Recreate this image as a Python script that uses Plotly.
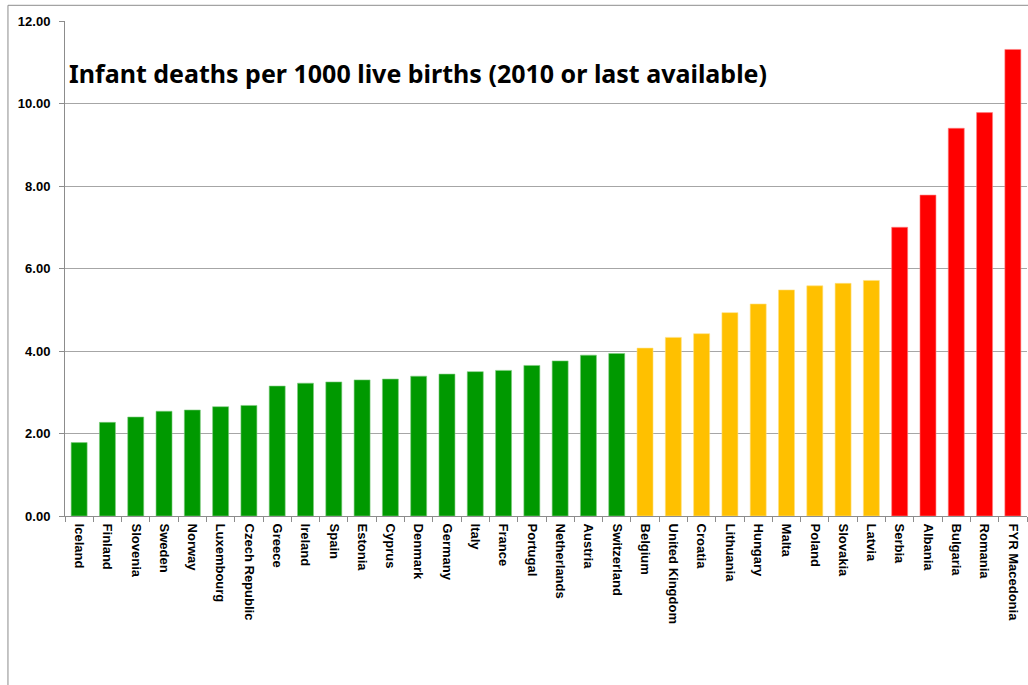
import plotly.graph_objects as go

# Infant deaths per 1000 live births, 2010 or latest year available
countries = [
    "Iceland", "Finland", "Slovenia", "Sweden", "Norway", "Luxembourg",
    "Czech Republic", "Greece", "Ireland", "Spain", "Estonia", "Cyprus",
    "Denmark", "Germany", "Italy", "France", "Portugal", "Netherlands",
    "Austria", "Switzerland", "Belgium", "United Kingdom", "Croatia",
    "Lithuania", "Hungary", "Malta", "Poland", "Slovakia", "Latvia",
    "Serbia", "Albania", "Bulgaria", "Romania", "FYR Macedonia",
]
rates = [
    1.78, 2.27, 2.40, 2.54, 2.57, 2.65, 2.68, 3.15, 3.22, 3.25, 3.30, 3.32,
    3.39, 3.44, 3.50, 3.53, 3.65, 3.76, 3.90, 3.94, 4.07, 4.33, 4.42,
    4.93, 5.14, 5.48, 5.58, 5.64, 5.71, 7.00, 7.78, 9.40, 9.78, 11.31,
]
# band per country: low (<4), middle (4-6), high (>6)
bands = ["low"] * 20 + ["mid"] * 9 + ["high"] * 5
band_colors = {"low": "#009900", "mid": "#FFC000", "high": "#FF0000"}
edge_colors = {"low": "#7FCC7F", "mid": "#FFE080", "high": "#FF8080"}

y_ticks = [0, 2, 4, 6, 8, 10, 12]

fig = go.Figure(
    go.Bar(
        x=countries,
        y=rates,
        marker=dict(
            color=[band_colors[b] for b in bands],
            line=dict(color=[edge_colors[b] for b in bands], width=0.6),
        ),
        width=0.565,
        hovertemplate="%{x}: %{y:.2f}<extra></extra>",
    )
)

fig.update_layout(
    width=1028,
    height=685,
    margin=dict(l=65, r=1, t=21, b=169),
    paper_bgcolor="white",
    plot_bgcolor="white",
    showlegend=False,
    font=dict(family="Liberation Sans, Arial, sans-serif", color="black"),
    annotations=[
        dict(
            text="Infant deaths per 1000 live births (2010 or last available)",
            xref="paper", yref="paper",
            x=0.002, y=0.895,
            xanchor="left", yanchor="middle",
            showarrow=False,
            font=dict(family="Noto Sans", size=25, color="black", weight="bold"),
        )
    ],
    shapes=[
        # chart frame edges
        dict(type="line", xref="paper", yref="paper",
             x0=-0.0593, x1=-0.0593, y0=1.0317, y1=-0.4,
             line=dict(color="#8C8C8C", width=1)),
        dict(type="line", xref="paper", yref="paper",
             x0=-0.0593, x1=1.01, y0=1.0317, y1=1.0317,
             line=dict(color="#8C8C8C", width=1)),
    ],
)

fig.update_xaxes(
    type="category",
    tickangle=90,
    tickson="boundaries",
    ticks="outside",
    ticklen=5,
    tickcolor="#8C8C8C",
    showline=True,
    linecolor="#8C8C8C",
    linewidth=1,
    showgrid=False,
    ticklabelstandoff=4,
    tickfont=dict(family="Liberation Sans", size=13, color="black", weight="bold"),
)

fig.update_yaxes(
    range=[0, 12],
    tickvals=y_ticks,
    tickformat=".2f",
    ticks="outside",
    ticklen=5,
    tickcolor="#8C8C8C",
    showline=True,
    linecolor="#8C8C8C",
    linewidth=1,
    showgrid=True,
    gridcolor="#A6A6A6",
    gridwidth=1,
    zeroline=False,
    ticklabelstandoff=6,
    tickfont=dict(family="Liberation Sans", size=13, color="black", weight="bold"),
)

fig.write_html("out.html")
